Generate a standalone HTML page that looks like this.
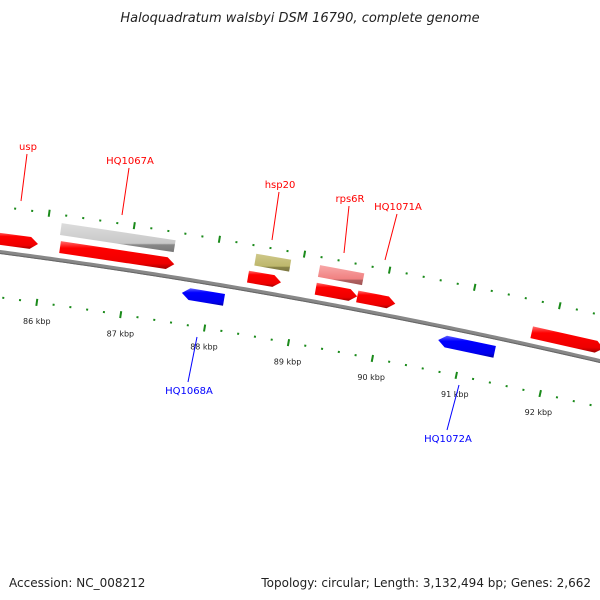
<!DOCTYPE html>
<html><head><meta charset="utf-8"><style>
body{margin:0;background:#fff}
svg{display:block}
text{font-family:"DejaVu Sans","Liberation Sans",sans-serif}
</style></head><body>
<svg id="map" width="600" height="600" viewBox="0 0 600 600" xmlns="http://www.w3.org/2000/svg">
<defs>
<linearGradient id="gRed" x1="0" y1="0" x2="0" y2="1"><stop offset="0" stop-color="#ff7070"/><stop offset="0.25" stop-color="#ff0000"/><stop offset="0.8" stop-color="#ee0000"/><stop offset="1" stop-color="#a00000"/></linearGradient>
<linearGradient id="gBlue" x1="0" y1="0" x2="0" y2="1"><stop offset="0" stop-color="#6060ff"/><stop offset="0.25" stop-color="#0000ff"/><stop offset="0.8" stop-color="#0000ee"/><stop offset="1" stop-color="#0000a0"/></linearGradient>
<linearGradient id="gGray" x1="0" y1="0" x2="0" y2="1"><stop offset="0" stop-color="#dddddd"/><stop offset="0.7" stop-color="#c8c8c8"/><stop offset="0.75" stop-color="#888"/><stop offset="1" stop-color="#777"/></linearGradient>
<linearGradient id="gKhaki" x1="0" y1="0" x2="0" y2="1"><stop offset="0" stop-color="#cfc88a"/><stop offset="0.7" stop-color="#bdb76b"/><stop offset="0.75" stop-color="#8a8548"/><stop offset="1" stop-color="#7a7540"/></linearGradient>
<linearGradient id="gPink" x1="0" y1="0" x2="0" y2="1"><stop offset="0" stop-color="#f8a8a8"/><stop offset="0.7" stop-color="#f08080"/><stop offset="0.75" stop-color="#b06060"/><stop offset="1" stop-color="#a05555"/></linearGradient>
</defs>
<text x="300" y="22" text-anchor="middle" font-size="13" font-style="italic" fill="#222">Haloquadratum walsbyi DSM 16790, complete genome</text>
<g id="ticks"></g>
<g id="backbone"></g>
<g id="features"></g>
<g id="labels"></g>
<text x="9" y="587" font-size="12" fill="#222">Accession: NC_008212</text>
<text x="591" y="587" font-size="12" fill="#222" text-anchor="end">Topology: circular; Length: 3,132,494 bp; Genes: 2,662</text>
</svg>
<script>
const tickKbp = [85.4,85.6,85.8,86,86.2,86.4,86.6,86.8,87,87.2,87.4,87.6,87.8,88,88.2,88.4,88.6,88.8,89,89.2,89.4,89.6,89.8,90,90.2,90.4,90.6,90.8,91,91.2,91.4,91.6,91.8,92,92.2,92.4,92.6,92.8,93];
const tickLabels = ["86 kbp","87 kbp","88 kbp","89 kbp","90 kbp","91 kbp","92 kbp"];
const labelKbp = [86,87,88,89,90,91,92];
const featStart = [85.4,86.18,86.16,88.45,88.40,89.20,89.20,89.69,91.75,87.67,90.71];
const featEnd   = [85.92,87.53,87.50,88.86,88.79,89.72,89.69,90.14,92.6,88.17,91.38];
const featTrack = [-13,-13,-31,-31,-13,-31,-13,-13,-13,14,14];
const featType  = ["red","red","gray","khaki","red","pink","red","red","red","blue","blue"];
const featNames = ["gene-usp","gene-hq1067a","gene-hq1067a-bar","gene-hsp20","gene-hsp20-cds","gene-rps6r","gene-rps6r-cds","gene-hq1071a","gene-right","gene-hq1068a","gene-hq1072a"];
const geneLabels = ["usp","HQ1067A","hsp20","rps6R","HQ1071A","HQ1068A","HQ1072A"];
const geneLabelColor = ["red","red","red","red","red","blue","blue"];
const geneLabelX = [28,130,280,350,398,189,448];
const geneLabelY = [150,164,188,202,210,394,442];
const geneLineEnd = [[21,201],[122,215],[272,240],[344,253],[385,260],[197,337],[459,385]];

const NS="http://www.w3.org/2000/svg";
function bx(k){return 43+(k-86)*84.5;}
function cy(x){return 252+0.1317*x+8.33e-5*x*x;}
function pt(k,off){const x=bx(k);const s=0.1317+2*8.33e-5*x;const L=Math.hypot(1,s);return [x-s*off/L, cy(x)+off/L];}
function mk(tag,attrs,parent){const e=document.createElementNS(NS,tag);for(const a in attrs)e.setAttribute(a,attrs[a]);document.getElementById(parent).appendChild(e);return e;}

let d="";for(let x=-5;x<=605;x+=5){d+=(x===-5?"M":"L")+x+","+cy(x).toFixed(2);}
let bb=mk("path",{d:d,stroke:"#888",'stroke-width':4,fill:"none"},"backbone");


let bb2=mk("path",{d:d,stroke:"#666",'stroke-width':1,fill:"none",transform:"translate(0,1.5)"},"backbone");



tickKbp.forEach(k=>{
  const major=Math.abs(k-Math.round(k))<0.01;
  [-45,45].forEach(off=>{
    const len=major?7:2;
    const a=pt(k,off-len/2), b=pt(k,off+len/2);
    const t=mk("line",{x1:a[0],y1:a[1],x2:b[0],y2:b[1],stroke:"#1a8a1a",'stroke-width':2},"ticks");
    
    
  });
});
labelKbp.forEach((k,i)=>{
  const p=pt(k,67);
  const t=mk("text",{x:p[0]+3,y:p[1],'font-size':8,'text-anchor':'middle',fill:"#222"},"ticks");
  t.textContent=tickLabels[i];
  
  
});

const fills={red:"url(#gRed)",blue:"url(#gBlue)",gray:"url(#gGray)",khaki:"url(#gKhaki)",pink:"url(#gPink)"};
featStart.forEach((s,i)=>{
  const e=featEnd[i],o=featTrack[i],h=6,type=featType[i];
  let pts;
  if(type==="red"){
    const ah=0.09;
    pts=[pt(s,o-h),pt(e-ah,o-h),pt(e,o),pt(e-ah,o+h),pt(s,o+h)];
  } else if(type==="blue"){
    const ah=0.09;
    pts=[pt(s+ah,o-h),pt(e,o-h),pt(e,o+h),pt(s+ah,o+h),pt(s,o)];
  } else {
    pts=[pt(s,o-h),pt(e,o-h),pt(e,o+h),pt(s,o+h)];
  }
  const f=mk("polygon",{points:pts.map(p=>p[0].toFixed(1)+","+p[1].toFixed(1)).join(" "),fill:fills[type]},"features");
  
  
});

geneLabels.forEach((g,i)=>{
  const c=geneLabelColor[i];
  const l=mk("line",{x1:geneLabelX[i]-1,y1:geneLabelY[i]+4,x2:geneLineEnd[i][0],y2:geneLineEnd[i][1],stroke:c,'stroke-width':1},"labels");
  if(c==="blue"){l.setAttribute("y1",geneLabelY[i]-12);}
  
  
  const t=mk("text",{x:geneLabelX[i],y:geneLabelY[i],'font-size':10,'text-anchor':'middle',fill:c},"labels");
  t.textContent=g;
  
  
});
</script>
</body></html>
